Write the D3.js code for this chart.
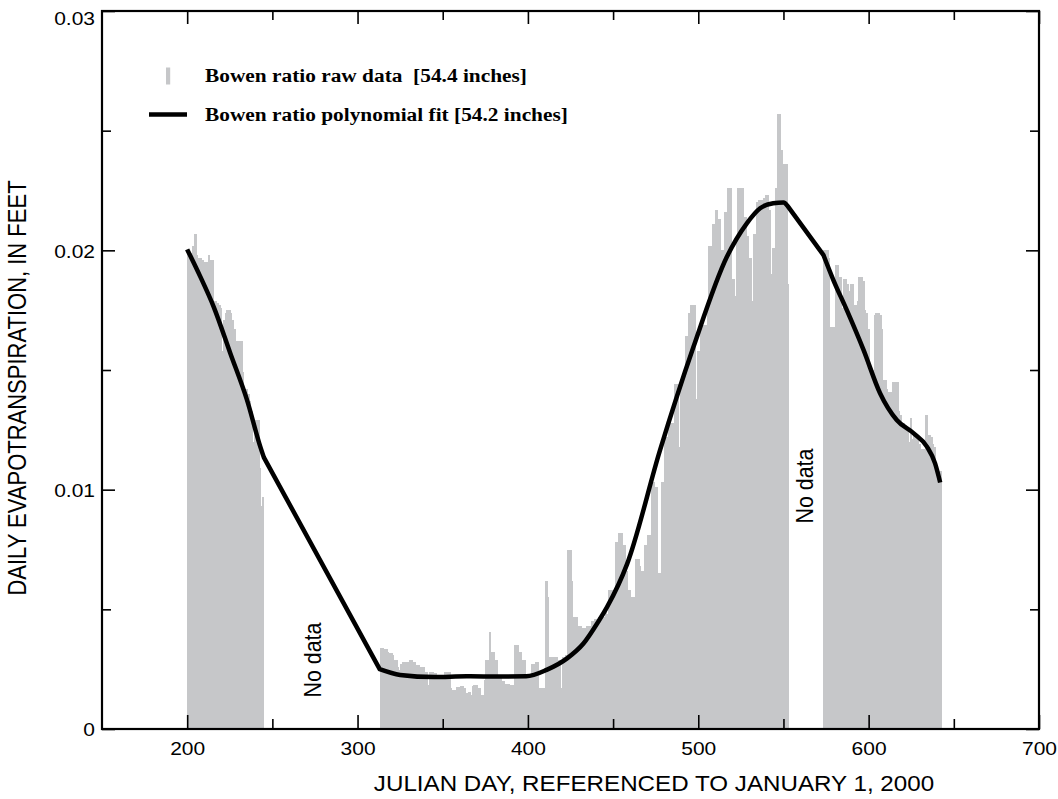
<!DOCTYPE html>
<html><head><meta charset="utf-8">
<script src="https://cdn.jsdelivr.net/npm/d3@7"></script>
<style>body{margin:0;background:#fff}</style>
</head><body><svg id="c" width="1058" height="799"></svg>
<script>
// ---------- data ----------
const rawStartDays = [200, 313, 573];
const rawValues1 = [0.0199,0.0199,0.0199,0.0202,0.0207,0.0198,0.0197,0.0197,0.0196,0.0195,
 0.0195,0.0195,0.0198,0.0196,0.0196,0.0167,0.0179,0.0178,0.0177,0.0176,
 0.0158,0.0171,0.0174,0.0175,0.0175,0.0174,0.0171,0.0167,0.0162,0.0162,
 0.0162,0.0162,0.0149,0.0142,0.0142,0.0140,0.0137,0.0133,0.0120,0.0129,
 0.0129,0.0129,0.0109,0.0093,0.0097];
const rawValues2 = [
 0.00337,0.00337,0.00334,0.00334,0.00323,0.00316,0.00316,0.0031,0.00288,0.00288,
 0.0026,0.00247,0.0027,0.0028,0.0028,0.0028,0.0028,0.0029,0.0029,0.0028,
 0.0028,0.00267,0.00267,0.0026,0.0026,0.0026,0.0024,0.0024,0.00184,0.0024,
 0.0024,0.00235,0.00235,0.00226,0.00226,0.00226,0.00212,0.00212,0.0024,0.0024,
 0.0024,0.0017,0.00163,0.00163,0.00163,0.00175,0.00175,0.0018,0.0018,0.0017,
 0.00149,0.00149,0.00155,0.0014,0.0018,0.00184,0.00184,0.0017,0.0017,0.0014,
 0.0014,0.00205,0.00288,0.00288,0.00407,0.00323,0.00323,0.0029,0.0029,0.00219,
 0.00219,0.002,0.002,0.0019,0.0019,0.0019,0.00185,0.00185,0.00185,0.0035,
 0.0035,0.0032,0.0032,0.0029,0.0029,0.0023,0.0022,0.0022,0.0022,0.0027,
 0.0027,0.0028,0.0028,0.0017,0.0017,0.0017,0.0017,0.0062,0.0055,0.0030,
 0.0030,0.0030,0.0030,0.0030,0.0029,0.0029,0.0017,0.0030,0.0030,0.0031,
 0.0075,0.0075,0.0062,0.0047,0.0047,0.0047,0.0043,0.0043,0.0042,0.0042,
 0.0042,0.0043,0.0043,0.0043,0.0045,0.0045,0.0046,0.0046,0.0047,0.0047,
 0.0048,0.0047,0.0049,0.0048,0.0058,0.0058,0.0058,0.0058,0.0078,0.0078,
 0.0082,0.0082,0.0077,0.0077,0.0066,0.0058,0.0058,0.0055,0.0055,0.0055,
 0.0071,0.0071,0.0068,0.0066,0.0066,0.0077,0.0077,0.0081,0.0081,0.0103,
 0.0103,0.0101,0.0101,0.0065,0.0065,0.0103,0.0103,0.0122,0.0122,0.0128,
 0.0128,0.0128,0.0128,0.0144,0.0144,0.0118,0.0144,0.0144,0.0147,0.0164,
 0.0164,0.0174,0.0177,0.0177,0.0177,0.0138,0.0158,0.0158,0.0169,0.0169,
 0.0169,0.0169,0.0179,0.0202,0.0202,0.0211,0.0211,0.0217,0.0213,0.0213,
 0.0200,0.0200,0.0216,0.0216,0.0226,0.0226,0.0188,0.0188,0.0181,0.0206,
 0.0226,0.0226,0.0226,0.0214,0.0214,0.0206,0.0197,0.0197,0.0179,0.0207,
 0.0207,0.0220,0.0221,0.0221,0.0221,0.0222,0.0223,0.0223,0.0217,0.0190,
 0.0201,0.0201,0.0226,0.0257,0.0257,0.0242,0.0236,0.0236,0.0236,0.0186];
const rawValues3 = [
 0.0200,0.0200,0.0200,0.0197,0.0168,0.0168,0.0168,0.0194,0.0194,0.0189,
 0.0189,0.0176,0.0188,0.0188,0.0186,0.0183,0.0186,0.0186,0.0177,0.0177,
 0.0179,0.0189,0.0189,0.0187,0.0175,0.0174,0.0167,0.0138,0.0150,0.0150,
 0.0173,0.0174,0.0174,0.0173,0.0167,0.0146,0.0146,0.0142,0.0141,0.0141,
 0.0129,0.0145,0.0145,0.0145,0.0133,0.0131,0.0128,0.0128,0.0126,0.0126,
 0.0120,0.0130,0.0121,0.0123,0.0122,0.0122,0.0119,0.0117,0.0117,0.0117,
 0.0131,0.0123,0.0123,0.0122,0.0119,0.0118,0.0108,0.0108,0.0108,0.0108];

// polynomial fit, three fitted pieces joined by straight lines across the gaps
const fitDays1   = [200, 207.7, 215.5, 225.3, 235.1, 242.9, 245];
const fitValues1 = [0.02004, 0.0189, 0.01765, 0.0157, 0.01375, 0.0118, 0.01135];
const fitDays2   = [313, 325, 345, 364, 384, 399, 411, 423, 432.6, 441.2, 446.5, 458.2, 477.6, 497.2, 516.8, 528.5, 536.3, 544, 550, 552.5];
const fitValues2 = [0.0025, 0.00226, 0.00217, 0.00220, 0.00219, 0.00220, 0.00247, 0.00295, 0.00357, 0.00447, 0.0051, 0.00689, 0.01166, 0.01597, 0.01973, 0.02113, 0.02176, 0.02197, 0.0220, 0.02185];
const fitDays3   = [573.5, 579.3, 587.2, 597, 606.7, 616.5, 626.3, 634.2, 639, 642];
const fitValues3 = [0.0198, 0.01876, 0.0175, 0.01584, 0.01403, 0.01291, 0.01236, 0.0118, 0.0111, 0.0103];

const xMajorTicks = [200, 300, 400, 500, 600, 700];
const xMinorTicks = [250, 350, 450, 550, 650];
const yMajorTicks = [0, 0.01, 0.02, 0.03];
const yTickLabels = ["0", "0.01", "0.02", "0.03"];
const yMinorTicks = [0.005, 0.015, 0.025];
const legendLabels = ["Bowen ratio raw data  [54.4 inches]", "Bowen ratio polynomial fit [54.2 inches]"];
const noDataText = "No data";
const xTitle = "JULIAN DAY, REFERENCED TO JANUARY 1, 2000";
const yTitle = "DAILY EVAPOTRANSPIRATION, IN FEET";

// ---------- layout ----------
const L = 102, R = 1039, T = 11, B = 729;
const STRETCH = 1.13;
const SANS = "'Liberation Sans', Arial, Helvetica, sans-serif";
const SERIF = "'Liberation Serif', 'Times New Roman', serif";
const BAR = "#c6c7c9";

const svg = d3.select("#c");
const x = d3.scaleLinear().domain([150, 700]).range([L, R]);
const y = d3.scaleLinear().domain([0, 0.03]).range([B, T]);

// bars
const rawSets = [rawValues1, rawValues2, rawValues3];
const bars = [];
rawSets.forEach((vals, k) => vals.forEach((v, i) => bars.push({day: rawStartDays[k] + i, v, last: i === vals.length - 1})));
svg.append("g").attr("shape-rendering", "crispEdges").selectAll("rect").data(bars).join("rect")
  .attr("x", d => x(d.day))
  .attr("width", d => x(d.day + 1) - x(d.day) + (d.last ? 0 : 1))
  .attr("y", d => y(d.v))
  .attr("height", d => y(0) - y(d.v))
  .attr("fill", BAR);

// fit line
const lineCurve = d3.line().x(d => x(d[0])).y(d => y(d[1])).curve(d3.curveMonotoneX);
const pieces = [[fitDays1, fitValues1], [fitDays2, fitValues2], [fitDays3, fitValues3]]
  .map(([ds, vs]) => ds.map((dd, i) => [dd, vs[i]]));
const pathD = pieces.map((p, i) => { const s = lineCurve(p); return i === 0 ? s : s.replace(/^M/, "L"); }).join("");
svg.append("path").attr("d", pathD).attr("fill", "none").attr("stroke", "#000")
  .attr("stroke-width", 4.5).attr("stroke-linejoin", "round").attr("stroke-linecap", "butt");

// axes (ticks point inward on all sides)
function styleAxis(g) {
  g.select(".domain").remove();
  g.selectAll(".tick line").attr("stroke", "#000").attr("stroke-width", 1.6);
}
svg.append("g").attr("transform", `translate(0,${B})`)
  .call(d3.axisBottom(x).tickValues(xMajorTicks).tickSize(-14).tickPadding(10).tickFormat(d3.format("d")))
  .call(styleAxis)
  .call(g => g.selectAll("text").attr("font-family", SANS).attr("font-size", 18.6).attr("fill", "#000")
     .attr("y", 26).attr("dy", 0).attr("transform", `scale(${STRETCH},1)`));
svg.append("g").attr("transform", `translate(0,${B})`)
  .call(d3.axisBottom(x).tickValues(xMinorTicks).tickSize(-10).tickFormat("")).call(styleAxis);
svg.append("g").attr("transform", `translate(0,${T})`)
  .call(d3.axisTop(x).tickValues(xMajorTicks).tickSize(-13).tickFormat("")).call(styleAxis);
svg.append("g").attr("transform", `translate(0,${T})`)
  .call(d3.axisTop(x).tickValues(xMinorTicks).tickSize(-9).tickFormat("")).call(styleAxis);

svg.append("g").attr("transform", `translate(${L},0)`)
  .call(d3.axisLeft(y).tickValues(yMajorTicks).tickSize(-13).tickPadding(6.2).tickFormat((d, i) => yTickLabels[i]))
  .call(styleAxis)
  .call(g => g.selectAll("text").attr("font-family", SANS).attr("font-size", 18.6).attr("fill", "#000")
     .attr("dy", d => d === 0.03 ? "0.75em" : "0.36em").attr("transform", `scale(${STRETCH},1)`));
svg.append("g").attr("transform", `translate(${L},0)`)
  .call(d3.axisLeft(y).tickValues(yMinorTicks).tickSize(-9).tickFormat("")).call(styleAxis);
svg.append("g").attr("transform", `translate(${R},0)`)
  .call(d3.axisRight(y).tickValues(yMajorTicks).tickSize(-13).tickFormat("")).call(styleAxis);
svg.append("g").attr("transform", `translate(${R},0)`)
  .call(d3.axisRight(y).tickValues(yMinorTicks).tickSize(-9).tickFormat("")).call(styleAxis);

// frame
svg.append("rect").attr("x", L).attr("y", T).attr("width", R - L).attr("height", B - T)
  .attr("fill", "none").attr("stroke", "#000").attr("stroke-width", 2.2);

// axis titles
svg.append("text").attr("transform", `translate(654,791) scale(${STRETCH},1)`)
  .attr("text-anchor", "middle").attr("font-family", SANS).attr("font-size", 21.4).text(xTitle);
svg.append("text").attr("transform", `translate(26,388) scale(${STRETCH},1) rotate(-90)`)
  .attr("text-anchor", "middle").attr("font-family", SANS).attr("font-size", 22).text(yTitle);

// "No data" notes
[[273.5, 0.00288], [562.5, 0.01015]].forEach(([dd, vv]) => {
  svg.append("text").attr("transform", `translate(${x(dd)},${y(vv)}) scale(${STRETCH},1) rotate(-90)`)
    .attr("text-anchor", "middle").attr("dominant-baseline", "central")
    .attr("font-family", SANS).attr("font-size", 21.4).text(noDataText);
});

// legend
const lg = svg.append("g");
lg.append("rect").attr("x", 166).attr("y", 67.5).attr("width", 4.2).attr("height", 17).attr("fill", BAR);
lg.append("line").attr("x1", 149).attr("x2", 187).attr("y1", 114.5).attr("y2", 114.5)
  .attr("stroke", "#000").attr("stroke-width", 4.5);
legendLabels.forEach((t, i) => {
  lg.append("text").attr("transform", `translate(205,${81.5 + i * 39.5}) scale(${STRETCH},1)`)
    .attr("font-family", SERIF).attr("font-weight", "bold").attr("font-size", 18.9)
    .style("white-space", "pre").text(t);
});
</script></body></html>
